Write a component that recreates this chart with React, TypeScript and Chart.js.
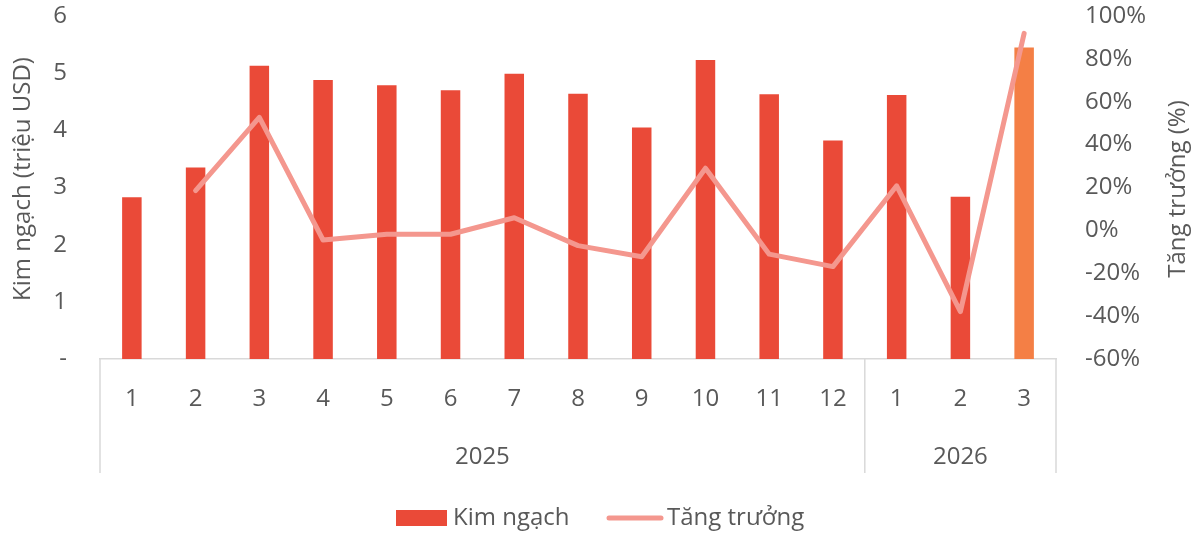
import React, { useEffect, useRef } from "react";
import { Chart, registerables } from "chart.js";

Chart.register(...registerables);

const monthLabels = ["1", "2", "3", "4", "5", "6", "7", "8", "9", "10", "11", "12", "1", "2", "3"];
const yearLabels = ["2025", "2026"];
const yearSpans = [12, 3];
const kimNgach = [2.83, 3.35, 5.13, 4.88, 4.79, 4.70, 4.99, 4.64, 4.05, 5.23, 4.63, 3.82, 4.62, 2.84, 5.45];
const tangTruong = [null, 18.5, 52.7, -4.5, -1.8, -1.8, 5.9, -7.1, -12.3, 29.0, -11.1, -16.9, 20.8, -37.9, 91.9];
const leftTicks = [0, 1, 2, 3, 4, 5, 6];

const FONT = "'Open Sans', 'Liberation Sans', sans-serif";
const FS = 24;
const TEXT = "#595959";
const RED = "#EA4A38";
const ORANGE = "#F47F45";
const LINE = "#F4978E";
const AXIS = "#D9D9D9";

const customPlugin = {
  id: "custom",
  afterDraw(chart: any) {
    const ctx = chart.ctx;
    const x = chart.scales.x;
    const area = chart.chartArea;
    ctx.save();
    ctx.strokeStyle = AXIS;
    ctx.lineWidth = 1.5;
    const half = (x.getPixelForValue(1) - x.getPixelForValue(0)) / 2;
    let start = 0;
    const bounds: number[] = [x.getPixelForValue(0) - half];
    yearSpans.forEach((n) => {
      start += n;
      bounds.push(x.getPixelForValue(start - 1) + half);
    });
    bounds.forEach((bx) => {
      ctx.beginPath();
      ctx.moveTo(bx, area.bottom);
      ctx.lineTo(bx, area.bottom + 114);
      ctx.stroke();
    });
    ctx.fillStyle = TEXT;
    ctx.font = `${FS}px ${FONT}`;
    ctx.textAlign = "center";
    ctx.textBaseline = "middle";
    yearLabels.forEach((lab, i) => {
      ctx.fillText(lab, (bounds[i] + bounds[i + 1]) / 2, 457);
    });
    ctx.save();
    ctx.translate(23, 179);
    ctx.rotate(-Math.PI / 2);
    ctx.fillText("Kim ngạch (triệu USD)", 0, 0);
    ctx.restore();
    ctx.save();
    ctx.translate(1178, 189);
    ctx.rotate(-Math.PI / 2);
    ctx.fillText("Tăng trưởng (%)", 0, 0);
    ctx.restore();
    ctx.fillStyle = RED;
    ctx.fillRect(396, 510, 51, 16);
    ctx.fillStyle = TEXT;
    ctx.textAlign = "left";
    ctx.fillText("Kim ngạch", 453, 518);
    ctx.strokeStyle = LINE;
    ctx.lineWidth = 5;
    ctx.lineCap = "round";
    ctx.beginPath();
    ctx.moveTo(609, 518);
    ctx.lineTo(661, 518);
    ctx.stroke();
    ctx.fillText("Tăng trưởng", 667, 518);
    ctx.restore();
  },
};

export default function App() {
  const ref = useRef<HTMLCanvasElement>(null);
  useEffect(() => {
    if (!ref.current) return;
    const chart = new Chart(ref.current, {
      type: "bar",
      data: {
        labels: monthLabels,
        datasets: [
          {
            type: "line",
            label: "Tăng trưởng",
            data: tangTruong as any,
            yAxisID: "y1",
            borderColor: LINE,
            backgroundColor: LINE,
            borderWidth: 5,
            pointRadius: 0,
            borderCapStyle: "round",
            borderJoinStyle: "round",
            tension: 0,
            order: 0,
          } as any,
          {
            type: "bar",
            label: "Kim ngạch",
            data: kimNgach,
            yAxisID: "y",
            backgroundColor: (c: any) => (c.dataIndex === kimNgach.length - 1 ? ORANGE : RED),
            barPercentage: 0.306,
            categoryPercentage: 1,
            order: 1,
          } as any,
        ],
      },
      options: {
        responsive: false,
        animation: false,
        layout: { padding: { top: 16, left: 0, right: 0, bottom: 0 } },
        plugins: { legend: { display: false }, tooltip: { enabled: false } },
        scales: {
          x: {
            grid: { display: false, drawTicks: false },
            border: { display: true, color: AXIS, width: 1.5 },
            ticks: { color: TEXT, font: { family: FONT, size: FS }, padding: 26, maxRotation: 0, autoSkip: false },
            afterFit: (s: any) => { s.height = 175; s.paddingLeft = 0; s.paddingRight = 0; },
          },
          y: {
            position: "left",
            min: 0,
            max: 6,
            grid: { display: false, drawTicks: false },
            border: { display: false },
            afterBuildTicks: (s: any) => { s.ticks = leftTicks.map((v) => ({ value: v })); },
            ticks: {
              color: TEXT,
              font: { family: FONT, size: FS },
              padding: 33,
              callback: (v: any) => (Number(v) === 0 ? "-" : String(v)),
            },
            afterFit: (s: any) => { s.width = 100; s.paddingTop = 0; s.paddingBottom = 0; },
          },
          y1: {
            position: "right",
            min: -60,
            max: 100,
            grid: { display: false, drawTicks: false },
            border: { display: false },
            ticks: {
              stepSize: 20,
              color: TEXT,
              font: { family: FONT, size: FS },
              padding: 29,
              callback: (v: any) => `${Math.round(Number(v))}%`,
            },
            afterFit: (s: any) => { s.width = 135; s.paddingTop = 0; s.paddingBottom = 0; },
          },
        },
      },
      plugins: [customPlugin],
    });
    return () => chart.destroy();
  }, []);
  return (
    <div style={{ position: "fixed", left: 0, top: 0, width: 1191, height: 534, background: "#fff" }}>
      <canvas ref={ref} width={1191} height={534} />
    </div>
  );
}
